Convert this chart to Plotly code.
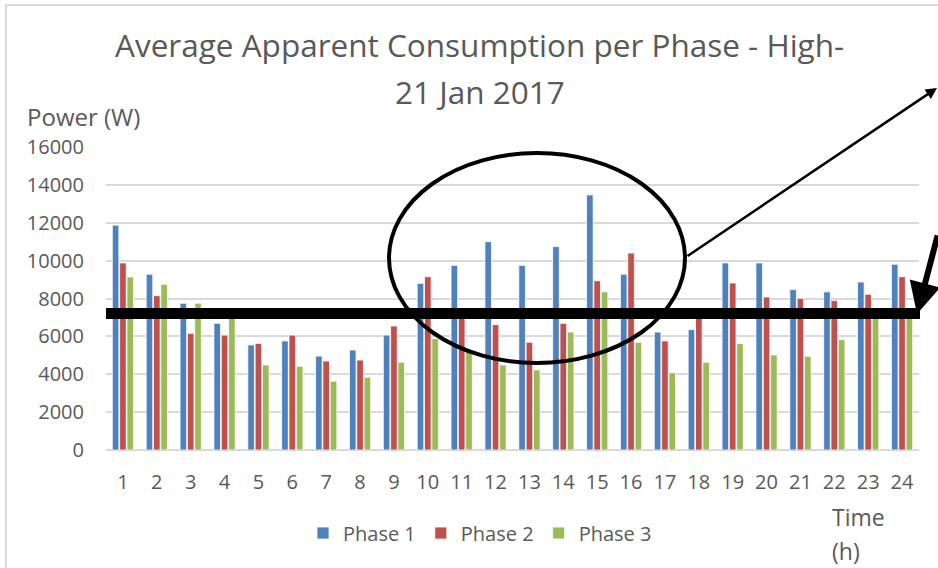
import plotly.graph_objects as go

hours = [str(h) for h in range(1, 25)]
phase1 = [11870, 9280, 7750, 6690, 5550, 5760, 4960, 5280, 6070, 8800, 9750, 11000,
          9750, 10740, 13470, 9280, 6230, 6360, 9880, 9880, 8470, 8350, 8870, 9810]
phase2 = [9880, 8150, 6160, 6070, 5630, 6070, 4700, 4750, 6550, 9150, 7000, 6620,
          5690, 6690, 8940, 10400, 5760, 6950, 8820, 8080, 8010, 7890, 8220, 9150]
phase3 = [9140, 8750, 7750, 7050, 4490, 4420, 3630, 3840, 4630, 5880, 5200, 4490,
          4230, 6230, 8350, 5690, 4080, 4630, 5620, 5020, 4950, 5830, 7200, 7200]
series_names = ["Phase 1", "Phase 2", "Phase 3"]
colors = ["#4F81BD", "#C0504D", "#9BBB59"]
ytick_vals = list(range(0, 16001, 2000))

W, H = 938, 568
L, R, T, B = 106, 19, 147, 118
PW, PH = W - L - R, H - T - B


def X(px):
    return (px - L) / PW


def Y(py):
    return (H - B - py) / PH


FONT = "Open Sans"
GREY = "#595959"

fig = go.Figure()
for name, vals, col in zip(series_names, [phase1, phase2, phase3], colors):
    fig.add_trace(go.Bar(x=hours, y=vals, name=name,
                         marker=dict(color=col, line=dict(color="white", width=0.8))))

fig.update_layout(
    width=W, height=H,
    margin=dict(l=L, r=R, t=T, b=B),
    paper_bgcolor="white", plot_bgcolor="white",
    barmode="group", bargap=0.35, bargroupgap=0.1,
    font=dict(family=FONT, color=GREY, size=19),
    showlegend=True,
    legend=dict(orientation="h", x=X(480), y=Y(533), xanchor="center", yanchor="middle",
                font=dict(size=20, color=GREY), itemwidth=30, tracegroupgap=0),
    xaxis=dict(showgrid=False, ticks="", ticklabelstandoff=18, showline=False,
               tickfont=dict(size=20, color=GREY)),
    yaxis=dict(range=[0, 16000], tickvals=ytick_vals, tickformat="d", showgrid=True,
               gridcolor="#D9D9D9", gridwidth=1.5, zeroline=True, zerolinecolor="#D9D9D9",
               zerolinewidth=1.5, ticks="", ticklabelstandoff=21,
               tickfont=dict(size=20, color=GREY)),
)

annotations = [
    dict(text="Average Apparent Consumption per Phase - High-", x=X(479), y=Y(45),
         font=dict(size=31.5, color=GREY)),
    dict(text="21 Jan 2017", x=X(480), y=Y(91), font=dict(size=31.5, color=GREY)),
    dict(text="Power (W)", x=X(25), y=Y(117), xanchor="left", font=dict(size=24, color=GREY)),
    dict(text="Time", x=X(830), y=Y(517), xanchor="left", font=dict(size=23, color=GREY)),
    dict(text="(h)", x=X(830), y=Y(551), xanchor="left", font=dict(size=23, color=GREY)),
]
for a in annotations:
    a.update(xref="paper", yref="paper", showarrow=False, yanchor="middle")
    a.setdefault("xanchor", "center")

# thin arrow from the ellipse to the top right
annotations.append(dict(text="", x=X(937), y=Y(88), xref="paper", yref="paper",
                        showarrow=True, axref="pixel", ayref="pixel", ax=-251, ay=169,
                        arrowhead=2, arrowsize=0.9, arrowwidth=2.5, arrowcolor="black"))
# thick arrow pointing at the end of the horizontal bar
annotations.append(dict(text="", x=X(917), y=Y(314), xref="paper", yref="paper",
                        showarrow=True, axref="pixel", ayref="pixel", ax=24, ay=-80,
                        arrowhead=2, arrowsize=1.05, arrowwidth=6, arrowcolor="black"))
fig.update_layout(annotations=annotations)

shapes = [
    # chart frame (left and top edges)
    dict(type="line", x0=X(6), x1=X(6), y0=Y(4), y1=Y(570), line=dict(color="#D9D9D9", width=2)),
    dict(type="line", x0=X(5), x1=X(940), y0=Y(5), y1=Y(5), line=dict(color="#D9D9D9", width=2)),
    # thick horizontal marker line
    dict(type="line", x0=X(106), x1=X(920), y0=Y(313.5), y1=Y(313.5),
         line=dict(color="black", width=11)),
    # ellipse
    dict(type="circle", x0=X(389), x1=X(685), y0=Y(153), y1=Y(363),
         line=dict(color="black", width=4)),
]
for s in shapes:
    s.update(xref="paper", yref="paper", layer="above")
fig.update_layout(shapes=shapes)

fig.write_html("out.html", config={"displayModeBar": False},
               post_script="document.body.style.margin='0';")
